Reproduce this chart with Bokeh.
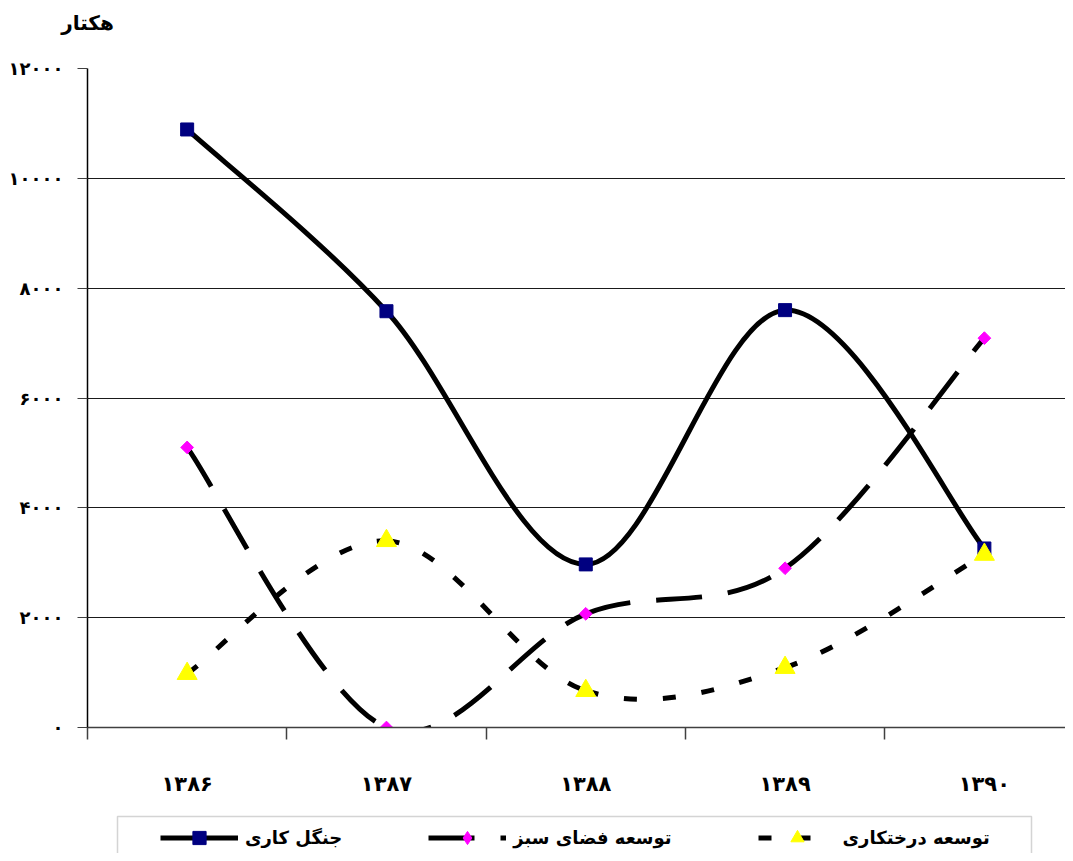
from bokeh.plotting import figure
from bokeh.layouts import column
from bokeh.models import (Range1d, FixedTicker, Legend, LegendItem, ColumnDataSource,
                          BoxAnnotation, Label)
from bokeh.embed import file_html
from bokeh.resources import INLINE
import math

# ---------------- data ----------------
years = ["۱۳۸۶", "۱۳۸۷", "۱۳۸۸", "۱۳۸۹", "۱۳۹۰"]
forest = [10890, 7580, 2970, 7600, 3260]          # جنگل کاری
green_space = [5100, 0, 2070, 2900, 7090]         # توسعه فضای سبز
tree_planting = [980, 3400, 670, 1090, 3150]      # توسعه درختکاری
series_names = ["جنگل کاری", "توسعه فضای سبز", "توسعه درختکاری"]
y_ticks = [0, 2000, 4000, 6000, 8000, 10000, 12000]
unit_label = "هکتار"

FONT = "DejaVu Sans"
FA_DIGITS = str.maketrans("0123456789", "۰۱۲۳۴۵۶۷۸۹")

STYLES = [
    dict(line=dict(line_color="black", line_width=5),
         marker=dict(marker="square", size=13, fill_color="#000080", line_color="#000080"),
         legend_marker=dict(marker="square", size=13, fill_color="#000080", line_color="#000080")),
    dict(line=dict(line_color="black", line_width=5, line_dash="46 26"),
         marker=dict(marker="square", angle=math.pi / 4, size=9,
                     fill_color="#FF00FF", line_color="#FF00FF"),
         legend_marker=dict(marker="diamond", size=13, fill_color="#FF00FF", line_color="#FF00FF")),
    dict(line=dict(line_color="black", line_width=5, line_dash="13 26"),
         marker=dict(marker="triangle", size=20, fill_color="#FFFF00", line_color="#FFFF00"),
         legend_marker=dict(marker="triangle", size=20, fill_color="#FFFF00", line_color="#FFFF00")),
]


def fa(n):
    return str(n).translate(FA_DIGITS)


def smooth(xs, ys):
    """Bezier segments (Excel-like smoothed line) through the data points."""
    n = len(xs)
    out = dict(x0=[], y0=[], x1=[], y1=[], cx0=[], cy0=[], cx1=[], cy1=[])
    for i in range(n - 1):
        a = i - 1 if i > 0 else i
        d = i + 2 if i + 2 < n else i + 1
        out["x0"].append(xs[i]); out["y0"].append(ys[i])
        out["x1"].append(xs[i + 1]); out["y1"].append(ys[i + 1])
        out["cx0"].append(xs[i] + (xs[i + 1] - xs[a]) / 6)
        out["cy0"].append(ys[i] + (ys[i + 1] - ys[a]) / 6)
        out["cx1"].append(xs[i + 1] - (xs[d] - xs[i]) / 6)
        out["cy1"].append(ys[i + 1] - (ys[d] - ys[i]) / 6)
    return ColumnDataSource(out)


BEZ = dict(x0="x0", y0="y0", x1="x1", y1="y1", cx0="cx0", cy0="cy0", cx1="cx1", cy1="cy1")

xs = list(range(len(years)))
all_series = [forest, green_space, tree_planting]

# ---------------- main chart ----------------
p = figure(width=1065, height=814, output_backend="svg", toolbar_location=None,
           title=None,
           x_range=Range1d(-0.5, 4.407), y_range=Range1d(0, 12000),
           min_border_left=87, min_border_right=0, min_border_top=68,
           min_border_bottom=87)
p.outline_line_color = None
p.background_fill_color = "white"
p.border_fill_color = "white"

# unit label above the y axis
p.add_layout(Label(x=-0.5, y=12000, text=unit_label, text_align="center",
                   text_baseline="middle", y_offset=46, text_font=FONT,
                   text_font_style="bold", text_font_size="20px",
                   text_color="black"), "above")

# grid
p.xgrid.visible = False
p.ygrid.ticker = FixedTicker(ticks=y_ticks)
p.ygrid.grid_line_color = "#1a1a1a"
p.ygrid.grid_line_width = 1

# x axis
xa = p.xaxis[0]
xa.ticker = FixedTicker(ticks=xs, minor_ticks=[i - 0.5 for i in range(len(years) + 1)])
xa.major_label_overrides = {i: years[i] for i in xs}
xa.major_tick_line_color = None
xa.major_tick_out = 0
xa.major_tick_in = 0
xa.minor_tick_out = 12
xa.minor_tick_in = 0
xa.minor_tick_line_color = "#404040"
xa.minor_tick_line_width = 1.5
xa.axis_line_color = "#404040"
xa.axis_line_width = 1.5
xa.major_label_standoff = 32
xa.major_label_text_font = FONT
xa.major_label_text_font_style = "bold"
xa.major_label_text_font_size = "21px"
xa.major_label_text_color = "black"

# y axis
ya = p.yaxis[0]
ya.ticker = FixedTicker(ticks=y_ticks)
ya.major_label_overrides = {v: fa(v) for v in y_ticks}
ya.major_tick_out = 10
ya.major_tick_in = 0
ya.major_tick_line_color = "#404040"
ya.minor_tick_line_color = None
ya.axis_line_color = "black"
ya.axis_line_width = 1.5
ya.major_label_standoff = 14
ya.major_label_text_font = FONT
ya.major_label_text_font_style = "bold"
ya.major_label_text_font_size = "18px"
ya.major_label_text_color = "black"

# series (line, then markers, series by series)
for vals, st in zip(all_series, STYLES):
    p.bezier(source=smooth(xs, vals), **BEZ, **st["line"])
    p.scatter(xs, vals, **st["marker"])

# ---------------- legend strip (below the chart) ----------------
# frame of this strip is aligned with the chart frame (x from 87 to 1065 px)
q = figure(width=1065, height=39, output_backend="svg", toolbar_location=None,
           title=None, x_axis_type=None, y_axis_type=None,
           x_range=Range1d(87, 1065), y_range=Range1d(39, 0),
           min_border_left=0, min_border_right=0, min_border_top=0,
           min_border_bottom=0)
q.outline_line_color = None
q.background_fill_color = "white"
q.border_fill_color = "white"

items = []
for name, vals, st in zip(series_names, all_series, STYLES):
    # same series; they fall outside this strip's ranges, so only the legend shows
    lr = q.bezier(source=smooth(xs, vals), **BEZ, **st["line"])
    mr = q.scatter(xs, vals, **st["legend_marker"])
    items.append(LegendItem(label=name, renderers=[lr, mr]))

legend = Legend(items=items, location=(69, -5), orientation="horizontal",
                glyph_width=78, glyph_height=33, label_standoff=7,
                spacing=86, padding=4, margin=0,
                border_line_alpha=0, background_fill_alpha=0,
                label_text_font=FONT, label_text_font_style="bold",
                label_text_font_size="18px", label_text_color="black")
q.add_layout(legend)

# legend frame (its lower edge lies below the visible strip)
q.add_layout(BoxAnnotation(left=117, right=1031, top=2, bottom=80,
                           fill_alpha=0, line_color="#707070", line_width=1.5))

open("out.html", "w").write(file_html(column(p, q), INLINE))
